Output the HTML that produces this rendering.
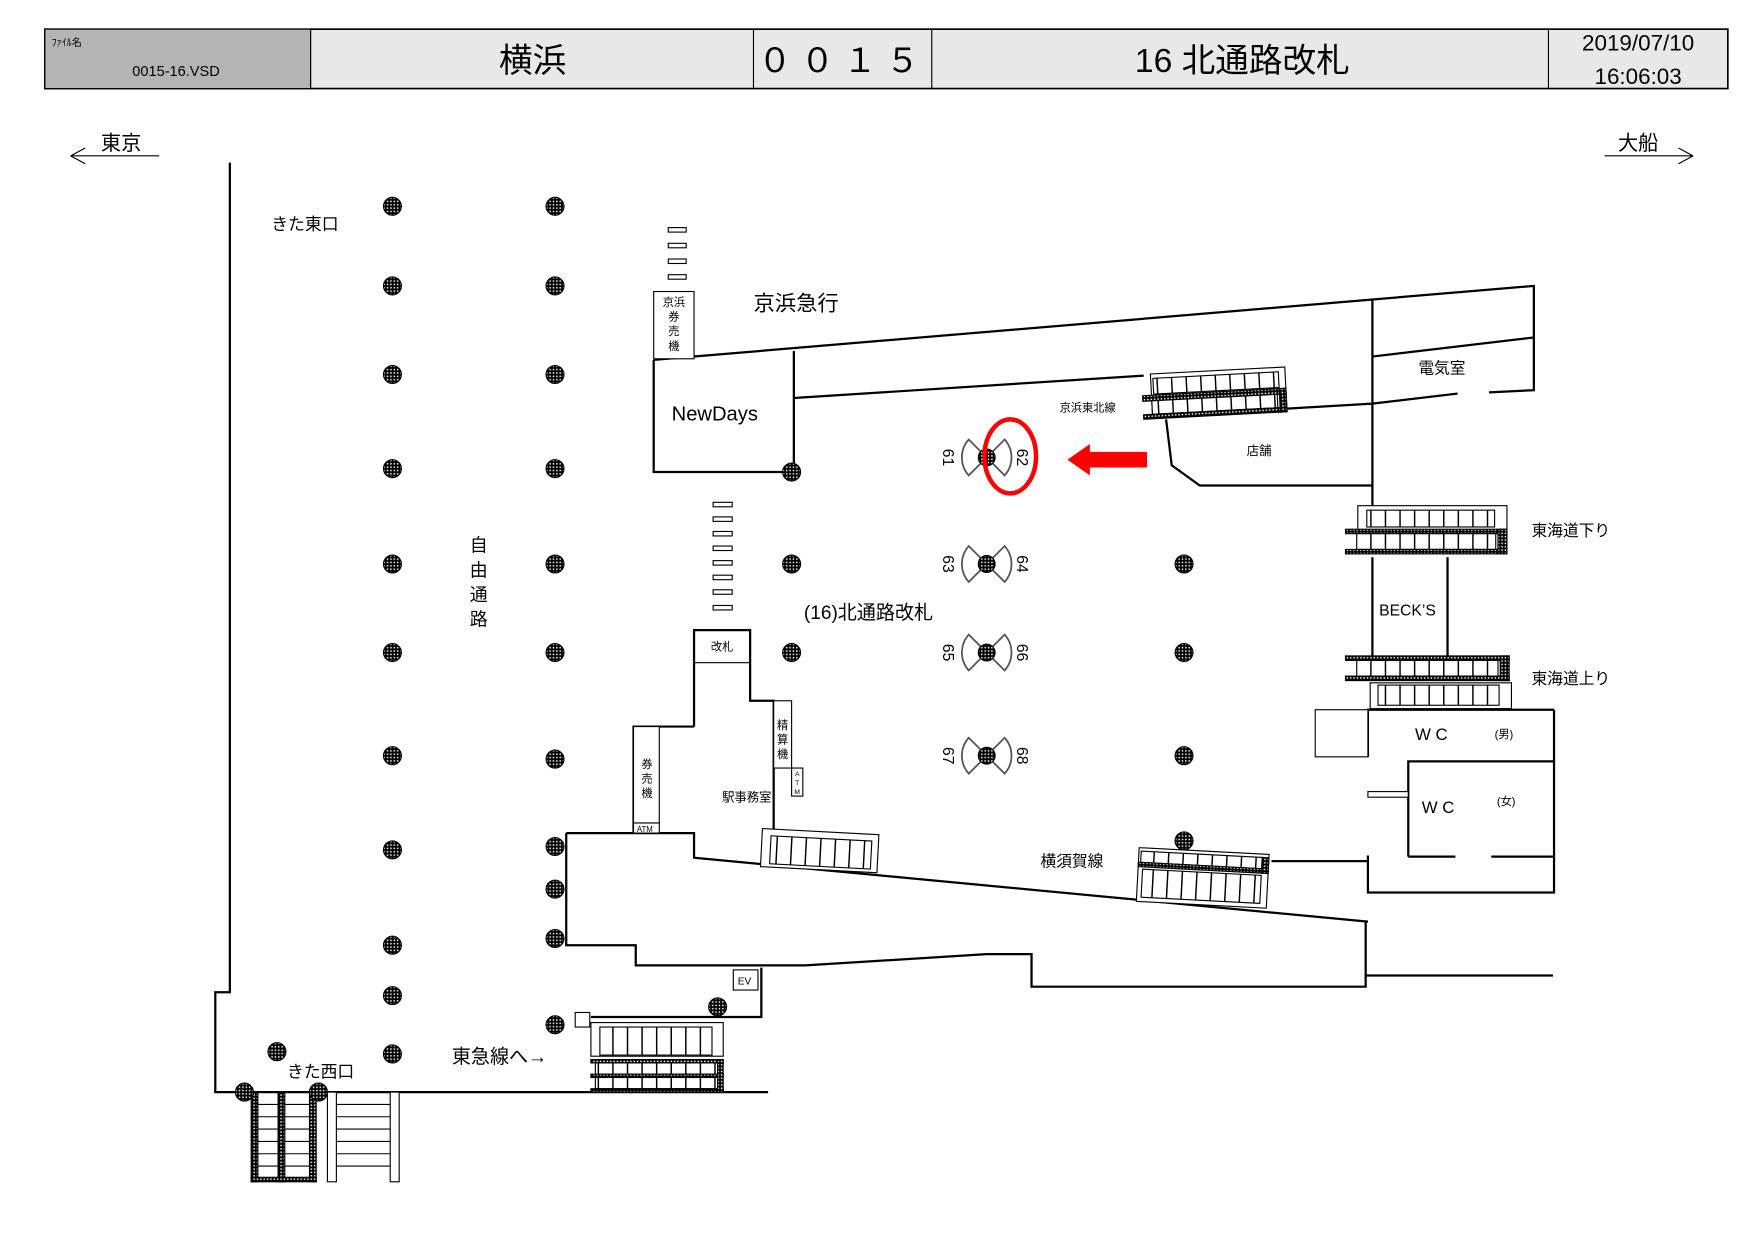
<!DOCTYPE html>
<html><head><meta charset="utf-8"><style>
html,body{margin:0;padding:0;background:#fff;width:1757px;height:1243px;overflow:hidden}
svg{display:block}
text{font-family:"Liberation Sans","Noto Sans CJK JP",sans-serif;fill:#000}
</style></head><body>
<svg width="1757" height="1243" viewBox="0 0 1567 1108.6" xmlns="http://www.w3.org/2000/svg">
<defs>
<pattern id="dots" width="3" height="3" patternUnits="userSpaceOnUse"><rect width="3" height="3" fill="#000"/><rect x="1" y="1" width="1.3" height="1.3" fill="#fff"/></pattern>
<pattern id="st" width="13" height="20" patternUnits="userSpaceOnUse"><rect width="13" height="20" fill="#fff"/><rect width="1.3" height="20" fill="#000"/></pattern>
<g id="p"><circle r="8" fill="url(#dots)" stroke="#000" stroke-width="1"/></g>
<g id="fan" fill="#fff" stroke="#555" stroke-width="1.6">
<path d="M0,0 L-16,-16 A24 24 0 0 0 -16,16 Z"/><path d="M0,0 L16,-16 A24 24 0 0 1 16,16 Z"/>
<circle r="7.5" fill="url(#dots)" stroke="#000" stroke-width="1"/></g>
</defs>
<!-- header -->
<rect x="40" y="26" width="1501" height="53" fill="#e8e8e8" stroke="#000" stroke-width="1.5"/>
<rect x="40" y="26" width="237" height="53" fill="#b4b4b4" stroke="#000" stroke-width="1"/>
<g stroke="#000" stroke-width="1"><line x1="277" y1="26" x2="277" y2="79"/><line x1="672" y1="26" x2="672" y2="79"/><line x1="831" y1="26" x2="831" y2="79"/><line x1="1381" y1="26" x2="1381" y2="79"/></g>
<text x="46" y="41" font-size="9">ﾌｧｲﾙ名</text>
<text x="118" y="68" font-size="13">0015-16.VSD</text>
<text x="475" y="64" font-size="30" text-anchor="middle">横浜</text>
<text x="752" y="64" font-size="30" text-anchor="middle" letter-spacing="8">００１５</text>
<text x="1108" y="64" font-size="30" text-anchor="middle">16 北通路改札</text>
<text x="1461" y="45" font-size="20" text-anchor="middle">2019/07/10</text>
<text x="1461" y="75" font-size="20" text-anchor="middle">16:06:03</text>
<!-- direction -->
<text x="90" y="134" font-size="18">東京</text>
<path d="M63,139 H142 M63,139 L76,132 M63,139 L76,146" stroke="#000" fill="none"/>
<text x="1443" y="134" font-size="18">大船</text>
<path d="M1431,139 H1510 M1510,139 L1497,132 M1510,139 L1497,146" stroke="#000" fill="none"/>
<g stroke="#000" stroke-width="2" fill="none">
<path d="M205,145 V885 H192 V974 H685"/>
<path d="M583,321 L1368,255 V301 L1224,318"/>
<path d="M1224,267 V455"/>
<path d="M1368,301 V348 L1328,350"/>
<path d="M1300,351 L1224,360 L1020,372"/>
<path d="M708,355 L1020,335"/>
<path d="M583,321 V421 H706 M708,313 V421"/>
<path d="M1040,374 L1045,415 L1070,433 H1224"/>
<path d="M619,648 V562 H669 V625 H690 V742"/>
<path d="M565,743 V648 H619"/>
<path d="M505,743 H619 V765 L1220,822"/>
<path d="M505,743 V843 H567 V861 H718 L880,851 H920 V880 H1218 V822"/>
<path d="M1218,870 H1385"/>
<path d="M679,863 V907 H527"/>
<path d="M1224,497 V585 M1291,497 V585"/>
<path d="M1386,633 V796 H1220 V763"/>
<path d="M1220,675 V633 H1386"/>
<path d="M1256,764 V679 H1386"/>
<path d="M1256,764 H1298 M1330,764 H1386"/>
<path d="M1134,768 H1220"/>
</g>
<g stroke="#000" stroke-width="1" fill="#fff">
<rect x="1173" y="633" width="47" height="42"/>
<rect x="1220" y="706" width="36" height="5"/>
<line x1="619" y1="591" x2="669" y2="591"/>
<rect x="565" y="648" width="23" height="86"/><rect x="565" y="734" width="23" height="9"/>
<rect x="690" y="625" width="16" height="60"/><rect x="706" y="685" width="10" height="25"/>
<rect x="583" y="260" width="36" height="60"/>
<rect x="654" y="865" width="22" height="18"/>
<rect x="513" y="903" width="13" height="13"/>
</g>
<g fill="#fff" stroke="#000" stroke-width="1">
<rect x="596" y="203" width="16" height="4"/><rect x="596" y="217" width="16" height="4"/><rect x="596" y="231" width="16" height="4"/><rect x="596" y="245" width="16" height="4"/>
<rect x="636" y="448" width="17" height="4"/><rect x="636" y="461" width="17" height="4"/><rect x="636" y="474" width="17" height="4"/><rect x="636" y="487" width="17" height="4"/><rect x="636" y="500" width="17" height="4"/><rect x="636" y="513" width="17" height="4"/><rect x="636" y="526" width="17" height="4"/><rect x="636" y="540" width="17" height="4"/>
</g>
<g stroke="#000" stroke-width="1">
<g transform="translate(1018,334) rotate(-3)">
<rect x="8" y="0" width="120" height="38" fill="#fff"/>
<rect x="10" y="4" width="112" height="14" fill="url(#st)"/>
<rect x="0" y="19" width="128" height="5" fill="url(#dots)"/>
<rect x="8" y="24" width="112" height="12" fill="url(#st)"/>
<rect x="0" y="36" width="128" height="4" fill="url(#dots)"/>
<rect x="122" y="19" width="6" height="21" fill="url(#dots)"/>
</g>
<rect x="1211" y="451" width="133" height="40" fill="#fff"/>
<rect x="1219" y="455" width="114" height="15" fill="url(#st)"/>
<rect x="1200" y="472" width="144" height="4" fill="url(#dots)"/>
<rect x="1210" y="476" width="124" height="14" fill="url(#st)"/>
<rect x="1200" y="490" width="144" height="4" fill="url(#dots)"/>
<rect x="1336" y="472" width="8" height="22" fill="url(#dots)"/>
<rect x="1200" y="585" width="146" height="4" fill="url(#dots)"/>
<rect x="1210" y="589" width="126" height="14" fill="url(#st)"/>
<rect x="1200" y="603" width="146" height="4" fill="url(#dots)"/>
<rect x="1338" y="585" width="8" height="22" fill="url(#dots)"/>
<rect x="1222" y="609" width="126" height="23" fill="#fff"/>
<rect x="1229" y="611" width="108" height="18" fill="url(#st)"/>
<g transform="translate(680,739) rotate(3)">
<rect x="0" y="0" width="104" height="34" fill="#fff"/>
<rect x="8" y="6" width="90" height="25" fill="url(#st)"/>
</g>
<g transform="translate(1016,756) rotate(3)">
<rect x="0" y="0" width="116" height="48" fill="#fff"/>
<rect x="2" y="3" width="110" height="10" fill="url(#st)"/>
<rect x="0" y="13" width="116" height="4" fill="url(#dots)"/>
<rect x="110" y="3" width="6" height="14" fill="url(#dots)"/>
<rect x="4" y="19" width="106" height="25" fill="url(#st)"/>
</g>
<rect x="527" y="912" width="118" height="30" fill="#fff"/>
<rect x="535" y="916" width="100" height="25" fill="url(#st)"/>
<rect x="527" y="945" width="118" height="3" fill="url(#dots)"/>
<rect x="531" y="948" width="110" height="10" fill="url(#st)"/>
<rect x="527" y="958" width="118" height="3" fill="url(#dots)"/>
<rect x="531" y="961" width="110" height="10" fill="url(#st)"/>
<rect x="527" y="971" width="118" height="3" fill="url(#dots)"/>
<rect x="640" y="945" width="5" height="29" fill="url(#dots)"/>
<rect x="224" y="974" width="6" height="80" fill="url(#dots)"/>
<rect x="248" y="974" width="6" height="80" fill="url(#dots)"/>
<rect x="276" y="974" width="6" height="80" fill="url(#dots)"/>
<rect x="224" y="1050" width="58" height="4" fill="url(#dots)"/>
<rect x="292" y="974" width="8" height="80" fill="#fff"/>
<rect x="348" y="974" width="8" height="80" fill="#fff"/>
</g>
<g stroke="#000" stroke-width="1">
<path d="M230,985 H248 M230,996 H248 M230,1007 H248 M230,1018 H248 M230,1029 H248 M230,1040 H248 M254,985 H276 M254,996 H276 M254,1007 H276 M254,1018 H276 M254,1029 H276 M254,1040 H276 M300,985 H348 M300,996 H348 M300,1007 H348 M300,1018 H348 M300,1029 H348 M300,1040 H348"/>
</g>
<use href="#p" x="350" y="184"/><use href="#p" x="350" y="255"/><use href="#p" x="350" y="334"/><use href="#p" x="350" y="418"/><use href="#p" x="350" y="503"/><use href="#p" x="350" y="582"/><use href="#p" x="350" y="674"/><use href="#p" x="350" y="758"/><use href="#p" x="350" y="843"/><use href="#p" x="350" y="888"/><use href="#p" x="350" y="940"/>
<use href="#p" x="495" y="184"/><use href="#p" x="495" y="255"/><use href="#p" x="495" y="334"/><use href="#p" x="495" y="418"/><use href="#p" x="495" y="503"/><use href="#p" x="495" y="582"/><use href="#p" x="495" y="677"/><use href="#p" x="495" y="755"/><use href="#p" x="495" y="793"/><use href="#p" x="495" y="837"/><use href="#p" x="495" y="914"/>
<use href="#p" x="706" y="421"/><use href="#p" x="706" y="503"/><use href="#p" x="706" y="582"/>
<use href="#p" x="1056" y="503"/><use href="#p" x="1056" y="582"/><use href="#p" x="1056" y="674"/><use href="#p" x="1056" y="750"/>
<use href="#p" x="640" y="898"/><use href="#p" x="247" y="938"/><use href="#p" x="218" y="974"/><use href="#p" x="284" y="974"/>
<use href="#fan" x="880" y="408"/><use href="#fan" x="880" y="503"/><use href="#fan" x="880" y="582"/><use href="#fan" x="880" y="674"/>
<g font-size="14">
<text transform="translate(841,408) rotate(90)" text-anchor="middle">61</text><text transform="translate(907,408) rotate(90)" text-anchor="middle">62</text>
<text transform="translate(841,503) rotate(90)" text-anchor="middle">63</text><text transform="translate(907,503) rotate(90)" text-anchor="middle">64</text>
<text transform="translate(841,582) rotate(90)" text-anchor="middle">65</text><text transform="translate(907,582) rotate(90)" text-anchor="middle">66</text>
<text transform="translate(841,674) rotate(90)" text-anchor="middle">67</text><text transform="translate(907,674) rotate(90)" text-anchor="middle">68</text>
</g>
<ellipse cx="901" cy="407" rx="23" ry="33" fill="none" stroke="#f00" stroke-width="4"/>
<path d="M1023,403 H972 V396 L952,410 L972,424 V417 H1023 Z" fill="#f00"/>
<text x="242" y="205" font-size="15">きた東口</text>
<text x="672" y="277" font-size="19">京浜急行</text>
<text x="599" y="375" font-size="18">NewDays</text>
<text x="945" y="367" font-size="10">京浜東北線</text>
<text x="1112" y="406" font-size="11">店舗</text>
<text x="1265" y="333" font-size="14">電気室</text>
<text x="1366" y="478" font-size="14">東海道下り</text>
<text x="1366" y="610" font-size="14">東海道上り</text>
<text x="1230" y="549" font-size="14">BECK’S</text>
<text x="1262" y="660" font-size="15">W C</text><text x="1333" y="658" font-size="10">(男)</text>
<text x="1268" y="725" font-size="15">W C</text><text x="1335" y="718" font-size="10">(女)</text>
<g font-size="10" text-anchor="middle"><text x="601" y="273">京浜</text><text x="601" y="286">券</text><text x="601" y="299">売</text><text x="601" y="312">機</text></g>
<g font-size="16" text-anchor="middle"><text x="427" y="492">自</text><text x="427" y="514">由</text><text x="427" y="536">通</text><text x="427" y="558">路</text></g>
<text x="717" y="552" font-size="17">(16)北通路改札</text>
<text x="634" y="580" font-size="10">改札</text>
<g font-size="10" text-anchor="middle"><text x="698" y="650">精</text><text x="698" y="663">算</text><text x="698" y="676">機</text></g>
<g font-size="6" text-anchor="middle"><text x="711" y="692">A</text><text x="711" y="700">T</text><text x="711" y="708">M</text></g>
<g font-size="10" text-anchor="middle"><text x="577" y="685">券</text><text x="577" y="698">売</text><text x="577" y="711">機</text></g>
<text x="568" y="742" font-size="7">ATM</text>
<text x="644" y="715" font-size="11">駅事務室</text>
<text x="928" y="773" font-size="14">横須賀線</text>
<text x="658" y="878" font-size="9">EV</text>
<text x="403" y="948" font-size="17">東急線へ→</text>
<text x="256" y="961" font-size="15">きた西口</text>
</svg>
</body></html>
